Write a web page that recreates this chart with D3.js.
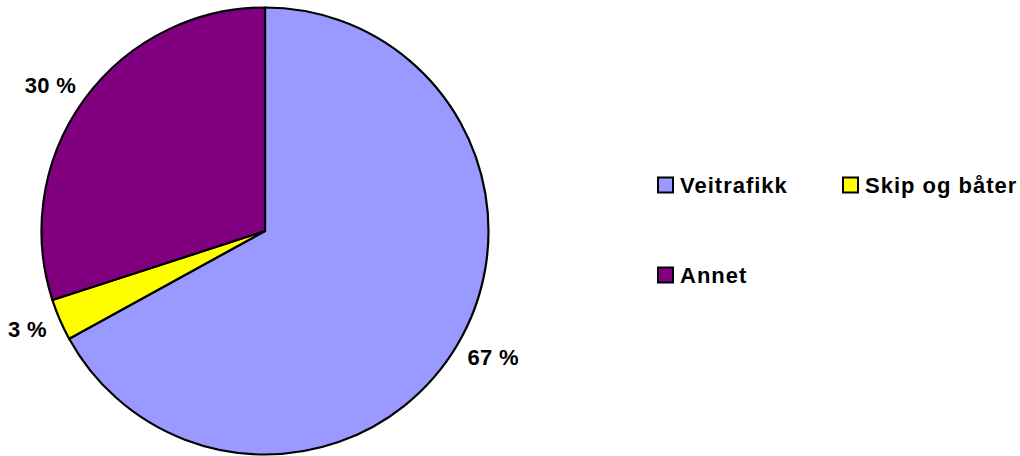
<!DOCTYPE html>
<html>
<head>
<meta charset="utf-8">
<script src="https://cdn.jsdelivr.net/npm/d3@7"></script>
<style>
  body { margin: 0; background: #fff; }
  text { font-family: "Liberation Sans", Arial, sans-serif; font-weight: bold; }
</style>
</head>
<body>
<div id="chart"></div>
<script>
// Data
const categories = ["Veitrafikk", "Skip og båter", "Annet"];
const shares = [67, 3, 30];
const colors = ["#9999ff", "#ffff00", "#800080"];

const width = 1020, height = 456;
const cx = 265, cy = 231, radius = 223.5;

const svg = d3.select("#chart")
    .append("svg")
    .attr("width", width)
    .attr("height", height);

const colorScale = d3.scaleOrdinal().domain(categories).range(colors);

const pie = d3.pie().sort(null).value(d => d.value);
const arcs = pie(categories.map((c, i) => ({ name: c, value: shares[i] })));

const arc = d3.arc().innerRadius(0).outerRadius(radius);

const g = svg.append("g").attr("transform", `translate(${cx},${cy})`);

// Slices
g.selectAll("path")
    .data(arcs)
    .enter()
    .append("path")
    .attr("d", arc)
    .attr("fill", d => colorScale(d.data.name))
    .attr("stroke", "#000")
    .attr("stroke-width", 2.2)
    .attr("stroke-linejoin", "round");

// Percent labels, placed just outside the rim (box offset along the mid angle)
const pad = 16;
g.selectAll(".pct")
    .data(arcs)
    .enter()
    .append("text")
    .attr("class", "pct")
    .attr("text-anchor", "middle")
    .attr("dy", "0.36em")
    .attr("font-size", 22)
    .attr("letter-spacing", 0.3)
    .text(d => d.data.value + " %")
    .each(function(d) {
        const a = (d.startAngle + d.endAngle) / 2;
        const bb = this.getBBox();
        const sx = Math.sin(a), sy = -Math.cos(a);
        const x = (radius + pad) * sx + sx * bb.width / 2;
        const y = (radius + pad) * sy + sy * 16 / 2;
        d3.select(this).attr("transform", `translate(${x},${y})`);
    });

// Legend
const legendPos = [[658, 185], [843, 185], [658, 275]];
const legend = svg.selectAll(".legend")
    .data(categories)
    .enter()
    .append("g")
    .attr("class", "legend")
    .attr("transform", (d, i) => `translate(${legendPos[i][0]},${legendPos[i][1]})`);

legend.append("rect")
    .attr("x", 0)
    .attr("y", -7.5)
    .attr("width", 15)
    .attr("height", 15)
    .attr("fill", d => colorScale(d))
    .attr("stroke", "#000")
    .attr("stroke-width", 2);

legend.append("text")
    .attr("x", 22)
    .attr("y", 0)
    .attr("dy", "0.36em")
    .attr("font-size", 22)
    .attr("letter-spacing", 1)
    .text(d => d);
</script>
</body>
</html>
